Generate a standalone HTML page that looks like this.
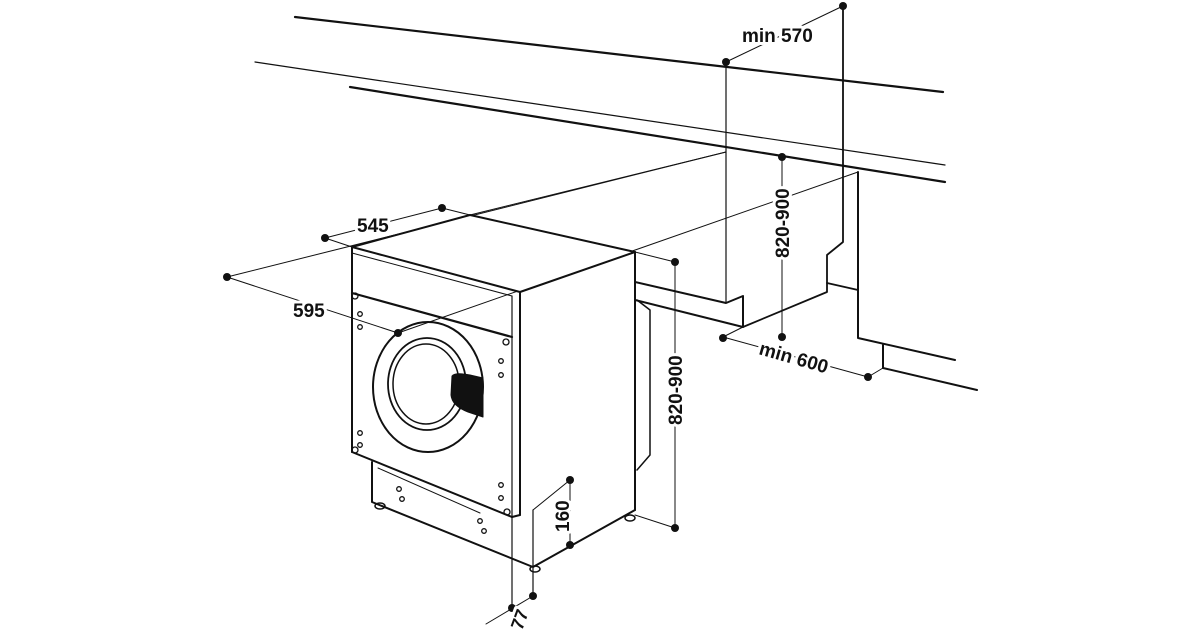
<!DOCTYPE html>
<html><head><meta charset="utf-8"><style>html,body{margin:0;padding:0;background:#fff}svg{display:block}</style></head>
<body>
<svg width="1200" height="630" viewBox="0 0 1200 630" xmlns="http://www.w3.org/2000/svg" font-family="Liberation Sans, Arial, sans-serif">
<g stroke="#111" fill="none" stroke-linecap="round" stroke-linejoin="round">
<line x1="295" y1="17" x2="943" y2="92" stroke-width="2.2"/>
<line x1="255" y1="62" x2="945" y2="165" stroke-width="1.2"/>
<line x1="350" y1="87" x2="945" y2="182" stroke-width="2.2"/>
<line x1="726" y1="62" x2="726" y2="303" stroke-width="1.2"/>
<polyline points="635,282 726,303 743,296 743,327 635,300" stroke-width="2"/>
<polyline points="743,327 827,292 827,255 843,242 843,6" stroke-width="1.8"/>
<line x1="827" y1="283" x2="858" y2="290" stroke-width="1.8"/>
<polyline points="858,172 858,338 955,360" stroke-width="2"/>
<polyline points="883,345 883,368 977,390" stroke-width="2"/>
<line x1="635" y1="300" x2="635" y2="282" stroke-width="2"/>
<line x1="470" y1="215" x2="726" y2="152" stroke-width="1"/>
<line x1="227" y1="277" x2="726" y2="152" stroke-width="1"/>
<line x1="398" y1="333" x2="858" y2="172" stroke-width="1"/>
<line x1="325" y1="238" x2="442" y2="208" stroke-width="1"/>
<line x1="325" y1="238" x2="352" y2="247" stroke-width="1"/>
<line x1="442" y1="208" x2="470" y2="215" stroke-width="1"/>
<line x1="227" y1="277" x2="398" y2="333" stroke-width="1"/>
<polyline points="352,247 470,215 635,252 520,292 352,247" stroke-width="2" fill="#fff"/>
<line x1="352" y1="253" x2="512" y2="296" stroke-width="1"/>
<line x1="352" y1="247" x2="352" y2="452" stroke-width="2"/>
<line x1="352" y1="452" x2="512" y2="517" stroke-width="2"/>
<line x1="512" y1="296" x2="512" y2="610" stroke-width="1.2"/>
<line x1="520" y1="292" x2="520" y2="515" stroke-width="2"/>
<line x1="635" y1="252" x2="635" y2="510" stroke-width="2"/>
<polyline points="512,517 520,515" stroke-width="2"/>
<line x1="352" y1="293" x2="512" y2="337" stroke-width="2.2"/>
<polyline points="637,300 650,310 650,455 637,470" stroke-width="1.5"/>
<ellipse cx="428" cy="387" rx="55" ry="65" stroke-width="2"/>
<ellipse cx="427" cy="384" rx="39" ry="46" stroke-width="1.8"/>
<ellipse cx="426" cy="384" rx="33" ry="40" stroke-width="1.5"/>
<path d="M452,376 Q455,372 470,375 L483,378 L483,417 L468,412 Q452,406 451,395 Z" fill="#111" stroke-width="1"/>
<polyline points="372,462 372,502 533,567 635,510 635,500" stroke-width="2"/>
<line x1="378" y1="468" x2="480" y2="513" stroke-width="1"/>
<line x1="533" y1="510" x2="533" y2="597" stroke-width="1.2"/>
<line x1="533" y1="510" x2="570" y2="480" stroke-width="1"/>
<line x1="570" y1="480" x2="570" y2="545" stroke-width="1"/>
<line x1="635" y1="515" x2="675" y2="528" stroke-width="1"/>
<line x1="675" y1="262" x2="675" y2="528" stroke-width="1"/>
<line x1="635" y1="252" x2="675" y2="262" stroke-width="1"/>
<line x1="782" y1="157" x2="782" y2="337" stroke-width="1"/>
<line x1="723" y1="337" x2="868" y2="377" stroke-width="1"/>
<line x1="723" y1="337" x2="743" y2="327" stroke-width="1"/>
<line x1="868" y1="377" x2="883" y2="368" stroke-width="1"/>
<line x1="726" y1="62" x2="843" y2="6" stroke-width="1"/>
<line x1="486" y1="624" x2="533" y2="596" stroke-width="1"/>
<ellipse cx="380" cy="506" rx="5" ry="3" stroke-width="1.5"/>
<ellipse cx="535" cy="569" rx="5" ry="3" stroke-width="1.5"/>
<ellipse cx="630" cy="518" rx="5" ry="3" stroke-width="1.5"/>
<g stroke-width="1.3">
<circle cx="355" cy="296" r="3"/><circle cx="360" cy="314" r="2.3"/><circle cx="360" cy="327" r="2.3"/>
<circle cx="506" cy="342" r="3"/><circle cx="501" cy="361" r="2.3"/><circle cx="501" cy="375" r="2.3"/>
<circle cx="360" cy="433" r="2.3"/><circle cx="360" cy="445" r="2.3"/><circle cx="355" cy="450" r="3"/>
<circle cx="501" cy="485" r="2.3"/><circle cx="501" cy="498" r="2.3"/><circle cx="507" cy="512" r="3"/>
<circle cx="399" cy="489" r="2.3"/><circle cx="402" cy="499" r="2.3"/><circle cx="480" cy="521" r="2.3"/><circle cx="484" cy="531" r="2.3"/>
</g>
</g>
<g fill="#111">
<circle cx="843" cy="6" r="4"/><circle cx="726" cy="62" r="4"/>
<circle cx="782" cy="157" r="4"/><circle cx="782" cy="337" r="4"/>
<circle cx="723" cy="338" r="4"/><circle cx="868" cy="377" r="4"/>
<circle cx="675" cy="262" r="4"/><circle cx="675" cy="528" r="4"/>
<circle cx="325" cy="238" r="4"/><circle cx="442" cy="208" r="4"/>
<circle cx="227" cy="277" r="4"/><circle cx="398" cy="333" r="4"/>
<circle cx="570" cy="480" r="4"/><circle cx="570" cy="545" r="4"/>
<circle cx="512" cy="608" r="4"/><circle cx="533" cy="596" r="4"/>
</g>
<g fill="#111" font-weight="bold" font-size="19" stroke="#fff" stroke-width="6" paint-order="stroke" stroke-linejoin="round">
<text x="742" y="42">min 570</text>
<text x="357" y="232">545</text>
<text x="293" y="317">595</text>
<text transform="translate(789,258) rotate(-90)">820-900</text>
<text transform="translate(682,425) rotate(-90)">820-900</text>
<text transform="translate(569,532) rotate(-90)">160</text>
<text transform="translate(758,354) rotate(16)">min 600</text>
<text transform="translate(522,631) rotate(-70)" font-size="18">77</text>
</g>
</svg>
</body></html>
